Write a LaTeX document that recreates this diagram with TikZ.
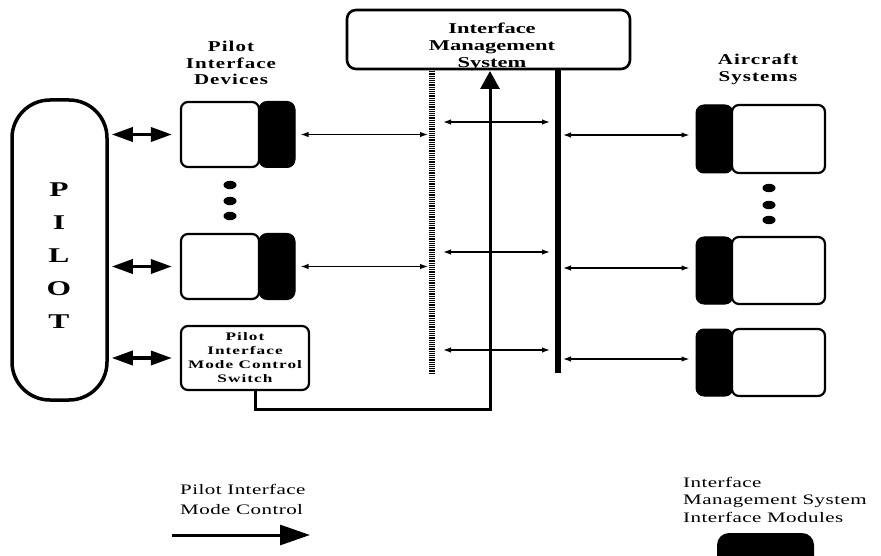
\documentclass[tikz,border=0pt]{standalone}
\usepackage{fontspec}
\setmainfont{Liberation Serif}
% Wide serif faces for the labels
\newfontfamily\headfont[FakeStretch=1.4, LetterSpace=7]{Liberation Serif}
\newfontfamily\boxfont[FakeStretch=1.5, LetterSpace=9]{Liberation Serif}
\newfontfamily\plainfont[FakeStretch=1.45, LetterSpace=3]{Liberation Serif}
\newfontfamily\imsfont[FakeStretch=1.5]{Liberation Serif}
\usetikzlibrary{arrows.meta}

\begin{document}
\begin{tikzpicture}[x=1pt,y=-1pt,
  devbox/.style={draw, line width=2.2pt, rounded corners=7pt, fill=white,
    inner sep=0pt, minimum width=78pt, minimum height=65pt},
  ifmodule/.style={draw=black, fill=black, line width=1pt, rounded corners=8pt,
    inner sep=0pt, minimum width=36pt, minimum height=66pt},
  acbox/.style={devbox, minimum width=93pt, minimum height=67pt},
  link/.style={{Latex[length=8pt,width=5.5pt]}-{Latex[length=8pt,width=5.5pt]}, line width=1.3pt},
  pilotlink/.style={{Triangle[length=21pt,width=14pt]}-{Triangle[length=21pt,width=14pt]}, line width=3.5pt},
  modectl/.style={-{Triangle[length=18pt,width=19pt]}, line width=3pt},
  heading/.style={font=\headfont\bfseries\fontsize{15pt}{16.5pt}\selectfont, align=center, inner sep=0pt},
  legendtext/.style={font=\plainfont\fontsize{14.5pt}{17.5pt}\selectfont, align=left, inner sep=0pt}
]
\useasboundingbox (0,0) rectangle (881,556);

% Pilot block
\node[draw, line width=3.5pt, rounded corners=38pt, minimum width=95pt, minimum height=300pt,
      inner sep=0pt] (pilot) at (59.5,250) {};
\node[font=\imsfont\bfseries\fontsize{21pt}{33pt}\selectfont, align=center, inner sep=0pt]
      (pilotname) at (59,256) {P\\I\\L\\O\\T};

% Pilot interface devices
\node[heading, anchor=north] (pidhead) at (231,41) {Pilot\\Interface\\Devices};
\node[ifmodule] (pm1) at (277,134.5) {};
\node[devbox] (pd1) at (220,134.5) {};
\node[ifmodule] (pm2) at (277,266.5) {};
\node[devbox] (pd2) at (220,266.5) {};
\node[devbox, minimum width=128pt, minimum height=64pt,
      font=\boxfont\bfseries\fontsize{11.5pt}{14pt}\selectfont, align=center]
      (sw) at (245,358) {Pilot\\Interface\\Mode Control\\Switch};

\fill (230,185) ellipse (6.5 and 4.2);
\fill (230,201) ellipse (6.5 and 4.2);
\fill (230,216) ellipse (6.5 and 4.2);

% Interface management system
\node[draw, line width=2.6pt, rounded corners=9pt, minimum width=283pt, minimum height=59pt,
      inner sep=0pt] (ims) at (488.5,39.5) {};
\node[font=\imsfont\bfseries\fontsize{15pt}{16.8pt}\selectfont, align=center, inner sep=0pt,
      anchor=north] (imstext) at (492,23) {Interface\\Management\\System};

% Buses
\coordinate (hbtop) at (432,69);
\coordinate (hbbot) at (432,373);
\coordinate (sbtop) at (558,69);
\coordinate (sbbot) at (558,373);
\draw[line width=6pt, dash pattern=on 1.3pt off 0.9pt] (hbtop) -- (hbbot);
\draw[line width=6pt] (sbtop) -- (sbbot);

% Aircraft systems
\node[heading, anchor=north] (achead) at (758,54) {Aircraft\\Systems};
\node[ifmodule, minimum width=37pt, minimum height=68pt] (am1) at (714.5,139) {};
\node[acbox, minimum height=68pt] (ac1) at (778.5,139) {};
\node[ifmodule, minimum width=37pt, minimum height=67pt] (am2) at (714.5,270.5) {};
\node[acbox] (ac2) at (778.5,270.5) {};
\node[ifmodule, minimum width=37pt, minimum height=67pt] (am3) at (714.5,362.5) {};
\node[acbox] (ac3) at (778.5,362.5) {};

\fill (769,188) ellipse (6.5 and 4.2);
\fill (769,205) ellipse (6.5 and 4.2);
\fill (769,220) ellipse (6.5 and 4.2);

% Pilot to devices
\draw[pilotlink, shorten <=3pt, shorten >=8pt] (pilot.east |- pd1.west) -- (pd1.west);
\draw[pilotlink, shorten <=3pt, shorten >=8pt] (pilot.east |- pd2.west) -- (pd2.west);
\draw[pilotlink, shorten <=3pt, shorten >=8pt] (pilot.east |- sw.west) -- (sw.west);

% Devices to the hatched bus
\draw[link, shorten <=5pt, shorten >=4pt] (pm1.east) -- (pm1.east -| hbtop);
\draw[link, shorten <=5pt, shorten >=4pt] (pm2.east) -- (pm2.east -| hbtop);

% Between the two buses
\draw[link, shorten <=11pt, shorten >=8pt] (hbtop |- 0,122) -- (sbtop |- 0,122);
\draw[link, shorten <=11pt, shorten >=8pt] (hbtop |- 0,252) -- (sbtop |- 0,252);
\draw[link, shorten <=11pt, shorten >=8pt] (hbtop |- 0,350) -- (sbtop |- 0,350);

% Solid bus to aircraft systems
\draw[link, shorten <=5pt, shorten >=6pt] (sbtop |- 0,135) -- (am1.west |- 0,135);
\draw[link, shorten <=5pt, shorten >=6pt] (sbtop |- 0,268) -- (am2.west |- 0,268);
\draw[link, shorten <=5pt, shorten >=6pt] (sbtop |- 0,359) -- (am3.west |- 0,359);

% Mode control path
\coordinate (imsin) at (490,71);
\draw[modectl] ([xshift=10pt]sw.south) -- ++(0,18) -| (imsin);

% Legend
\node[legendtext, anchor=north west, font=\plainfont\fontsize{14.5pt}{20pt}\selectfont]
      (lgtext) at (180,484) {Pilot Interface\\Mode Control};
\coordinate (lgs) at (172,535);
\coordinate (lge) at (310,535);
\draw[modectl, -{Triangle[length=30pt,width=20pt]}] (lgs) -- (lge);

\node[legendtext, anchor=north west] (imtext) at (683,477)
      {Interface\\Management System\\Interface Modules};
\node[fill=black, rounded corners=12pt, minimum width=97pt, minimum height=44pt,
      inner sep=0pt] (lgmod) at (765.5,555) {};
\end{tikzpicture}
\end{document}
